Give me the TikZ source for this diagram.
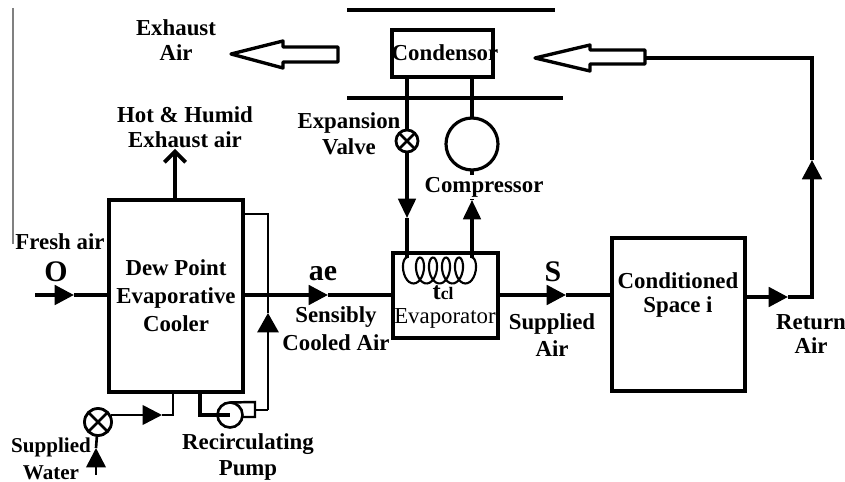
\documentclass[tikz,border=0pt]{standalone}
\usepackage{fontspec}
\setmainfont{Liberation Serif}
\usetikzlibrary{arrows.meta}
\tikzset{
  lbl/.style={font=\fontsize{13}{14}\selectfont\bfseries,align=center,inner sep=0pt},
  biglbl/.style={font=\fontsize{17}{17}\selectfont\bfseries,inner sep=0pt},
  bigline/.style={line width=2.2pt},
  thinline/.style={line width=1.8pt},
  bigtip/.style={-{Triangle[length=11pt,width=11pt]}},
  unit/.style={draw,line width=1.8pt,inner sep=0pt,outer sep=0pt},
  valve/.style={circle,draw,line width=1.6pt,inner sep=0pt,outer sep=0pt,fill=white,
    path picture={\draw[line width=1.6pt] (path picture bounding box.north west)--(path picture bounding box.south east)
    (path picture bounding box.north east)--(path picture bounding box.south west);}},
  hollow/.style={line width=1.9pt,line join=round}
}
\begin{document}
\begin{tikzpicture}[x=0.02cm,y=-0.02cm]
\useasboundingbox (0,0) rectangle (845,482);

\draw[gray,line width=1.2pt] (13,8)--(13,244);

\node[unit,minimum width=2.68cm,minimum height=3.84cm,lbl] (cooler) at (176,296) {Dew Point\\[2pt]Evaporative\\[2pt]Cooler};
\node[unit,minimum width=2.02cm,minimum height=0.94cm] (condensor) at (442.5,53.5) {};
\node[lbl] (condensortext) at (445,53) {Condensor};
\node[unit,minimum width=2.1cm,minimum height=1.7cm] (evaporator) at (445.5,295.5) {};
\node[unit,minimum width=2.66cm,minimum height=3.06cm] (space) at (678.5,314.5) {};
\node[lbl] (spacetext) at (678,295) {Conditioned\\Space i};

\coordinate (o) at (35,295);
\coordinate (otip) at (74,295);
\draw[bigline,bigtip] (o) -- (otip);
\draw[bigline] (otip) -- (otip -| cooler.west);

\coordinate (aetip) at (328,295);
\draw[bigline,bigtip] (cooler.east |- aetip) -- (aetip);
\draw[bigline] (aetip) -- (aetip -| evaporator.west);

\coordinate (stip) at (566,295);
\draw[bigline,bigtip] (stip -| evaporator.east) -- (stip);
\draw[bigline] (stip) -- (stip -| space.west);

\coordinate (rtip) at (788,297);
\coordinate (rcorner) at (812,297);
\coordinate (rtop) at (812,58);
\coordinate (uptip) at (812,160);
\draw[bigline,bigtip] (rtip -| space.east) -- (rtip);
\draw[bigline,bigtip] (rtip) -- (rcorner) -- (uptip);
\draw[bigline] (uptip) -- (rtop) -- (645,58);

\coordinate (hottop) at (175,149);
\draw[bigline,-{Straight Barb[length=6pt,width=12pt,line width=2.2pt]}] (hottop |- cooler.north) -- (hottop);

\draw[thinline] (347,10) -- (555,10);
\draw[thinline] (347,98) -- (563,98);

\node[valve,minimum size=0.44cm] (expvalve) at (407,141) {};
\node[circle,draw,line width=1.8pt,minimum size=1.04cm,inner sep=0pt,outer sep=0pt] (compressor) at (472,144) {};
\coordinate (downtip) at (407,218);
\coordinate (coilleft) at (407,258);
\coordinate (coilright) at (472,258);
\coordinate (comptip) at (472,200);
\draw[thinline] (407,77) -- (expvalve);
\draw[thinline,-{Triangle[length=11pt,width=10pt]}] (expvalve) -- (downtip);
\draw[thinline] (downtip) -- (coilleft);
\draw[thinline] (472,77) -- (compressor.north);
\draw[thinline,-{Triangle[length=11pt,width=10pt]}] (coilright) -- (comptip);
\draw[thinline] (comptip) -- (compressor.south);
\draw[line width=1.2pt] plot[smooth,domain=0:1800,samples=120] ({407+0.0361*\x-7*sin(\x)},{270.5-13*cos(\x)});

\node[valve,minimum size=0.54cm] (watervalve) at (98,422) {};
\coordinate (watertip) at (96,448);
\coordinate (waterin) at (96,475);
\coordinate (wtip) at (162,415);
\coordinate (wcorner) at (173,415);
\draw[line width=1.5pt,-{Triangle[length=11pt,width=11pt]}] (waterin) -- (watertip);
\draw[line width=1.5pt] (watertip) -- (watervalve);
\draw[line width=1.5pt,-{Triangle[length=11pt,width=11pt]}] (watervalve.east |- wtip) -- (wtip);
\draw[line width=1.5pt] (wtip) -- (wcorner) -- (wcorner |- cooler.south);

\node[circle,draw,line width=1.5pt,minimum size=0.5cm,inner sep=0pt,outer sep=0pt] (pump) at (230,415) {};
\coordinate (pumpin) at (200,415);
\coordinate (rtopside) at (268,214);
\coordinate (rtiphead) at (268,313);
\draw[thinline] (pumpin |- cooler.south) -- (pumpin) -- (pump.center);
\draw[line width=1.4pt] (pump.north) -- (255,402) -- (255,417) -- (pump.east |- 0,417);
\draw[line width=1.5pt] (255,410) -- (268,410);
\draw[line width=1.5pt,-{Triangle[length=11pt,width=12pt]}] (268,410) -- (rtiphead);
\draw[line width=1.5pt] (rtiphead) -- (rtopside) -- (rtopside -| cooler.east);

\draw[hollow] (338,47) -- (283,47) -- (283,41) -- (231,54) -- (283,68) -- (283,62) -- (338,62) -- cycle;
\draw[hollow] (645,50) -- (590,50) -- (590,45) -- (535,58) -- (590,71) -- (590,64) -- (645,64) -- cycle;

\node[lbl] (exhaust) at (176,40) {Exhaust\\Air};
\node[lbl] (hothumid) at (185,127) {Hot \& Humid\\Exhaust air};
\node[lbl] (expansion) at (349,134) {Expansion\\[1pt]Valve};
\node[lbl,fill=white,inner ysep=1pt] (comptext) at (484,187) {Compressor};
\node[lbl] (fresh) at (60,242) {Fresh air};
\node[biglbl] (olabel) at (56,272) {O};
\node[biglbl] (aelabel) at (323,274) {ae};
\node[lbl] (sensibly) at (336,329) {Sensibly\\[2pt]Cooled Air};
\node[biglbl] (slabel) at (553,272) {S};
\node[lbl] (supplied) at (552,335) {Supplied\\[1pt]Air};
\node[lbl] (returnair) at (811,334) {Return\\Air};
\node[lbl,font=\fontsize{12}{13}\selectfont\bfseries] (water) at (51,459) {Supplied\\[2pt]Water};
\node[lbl] (recirc) at (248,457) {Recirculating\\[1pt]Pump};
\node[lbl,font=\fontsize{14}{14}\selectfont\bfseries] (tcl) at (443,293) {t{\fontsize{10}{10}\selectfont cl}};
\node[font=\fontsize{13}{14}\selectfont,inner sep=0pt] (evaptext) at (445,318) {Evaporator};
\end{tikzpicture}
\end{document}
